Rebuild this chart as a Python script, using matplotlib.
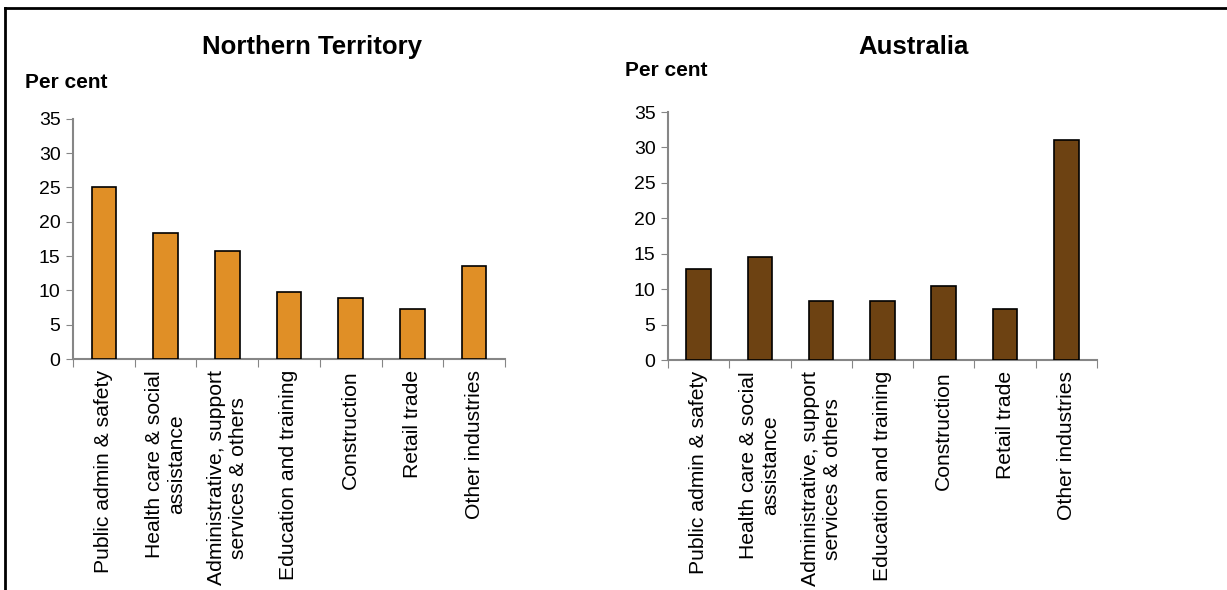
import matplotlib
matplotlib.use("Agg")
import matplotlib.pyplot as plt
import numpy as np

plt.rcParams['font.family'] = ['Liberation Sans', 'DejaVu Sans']

categories = ["Public admin & safety", "Health care & social\nassistance",
              "Administrative, support\nservices & others", "Education and training",
              "Construction", "Retail trade", "Other industries"]
nt_values = [25.0, 18.3, 15.8, 9.7, 8.9, 7.3, 13.6]
aus_values = [12.9, 14.5, 8.3, 8.3, 10.5, 7.2, 31.0]
yticks = [0, 5, 10, 15, 20, 25, 30, 35]

fig = plt.figure(figsize=(12.27, 5.90), dpi=100)

def draw(ax, vals, color):
    x = np.arange(len(categories))
    ax.bar(x, vals, width=0.4, color=color, edgecolor='black', linewidth=1.2, zorder=3)
    ax.set_xlim(-0.5, len(categories) - 0.5)
    ax.set_ylim(0, 35)
    ax.set_yticks(yticks)
    ax.set_yticklabels([str(t) for t in yticks], fontsize=14)
    ax.set_xticks(np.arange(len(categories) + 1) - 0.5)
    ax.set_xticklabels([])
    ax.set_xticks(x, minor=True)
    ax.set_xticklabels(categories, minor=True, rotation=90, fontsize=15.2,
                       va='top', ha='center', multialignment='center',
                       linespacing=1.2)
    ax.tick_params(axis='x', which='minor', length=0, pad=8)
    ax.tick_params(axis='x', which='major', length=6, color='#868686', direction='out')
    ax.tick_params(axis='y', length=5, color='#868686', direction='out', pad=4)
    for s in ['top', 'right']:
        ax.spines[s].set_visible(False)
    for s in ['left', 'bottom']:
        ax.spines[s].set_color('#868686')
        ax.spines[s].set_linewidth(1.5)

ax1 = fig.add_axes([0.0595, 0.3915, 0.352, 0.4073])
draw(ax1, nt_values, '#E08F26')
ax2 = fig.add_axes([0.5444, 0.3898, 0.3496, 0.4203])
draw(ax2, aus_values, '#6D4212')

fig.text(312/1227, 1 - 47/590, "Northern Territory", fontsize=18.5, fontweight='bold',
         ha='center', va='center')
fig.text(914/1227, 1 - 47/590, "Australia", fontsize=18.5, fontweight='bold',
         ha='center', va='center')
fig.text(25/1227, 1 - 82/590, "Per cent", fontsize=15, fontweight='bold',
         ha='left', va='center')
fig.text(625/1227, 1 - 70/590, "Per cent", fontsize=15, fontweight='bold',
         ha='left', va='center')

# outer frame (left and top edges)
fig.add_artist(plt.Line2D([5/1227, 5/1227], [0, 1 - 8/590], transform=fig.transFigure,
                          color='black', linewidth=2))
fig.add_artist(plt.Line2D([5/1227, 1], [1 - 8/590, 1 - 8/590], transform=fig.transFigure,
                          color='black', linewidth=2))

fig.savefig("out.png", dpi=100)
